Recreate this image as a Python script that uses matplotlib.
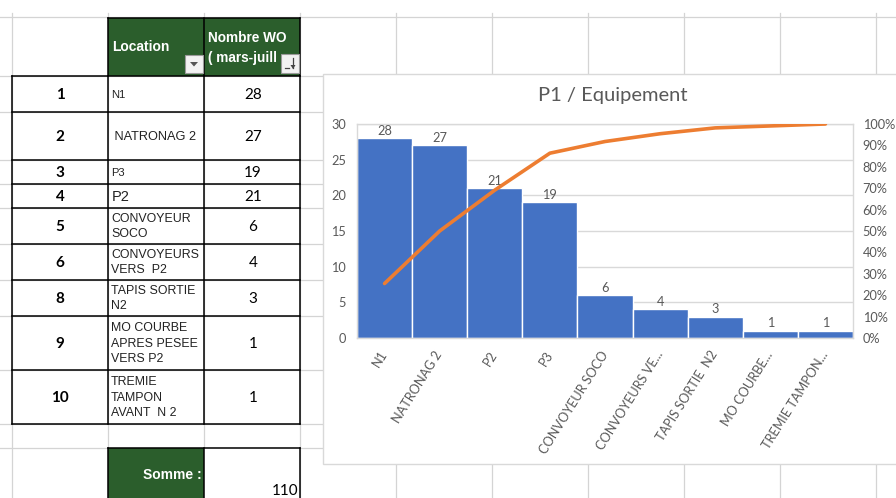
import numpy as np
import matplotlib
matplotlib.use("Agg")
import matplotlib.pyplot as plt
from matplotlib.patches import Rectangle, Polygon
from matplotlib.ticker import MultipleLocator, PercentFormatter

# ---- worksheet table ----
row_ids = ["1", "2", "3", "4", "5", "6", "8", "9", "10"]
locations = ["N1", " NATRONAG 2", "P3", "P2", "CONVOYEUR\nSOCO",
             "CONVOYEURS\nVERS  P2", "TAPIS SORTIE\nN2",
             "MO COURBE\nAPRES PESEE\nVERS P2", "TREMIE\nTAMPON\nAVANT  N 2"]
wo_counts = [28, 27, 19, 21, 6, 4, 3, 1, 1]

# ---- Pareto chart (sorted by count) ----
chart_title = "P1 / Equipement"
chart_categories = ["N1", "NATRONAG 2", "P2", "P3", "CONVOYEUR SOCO",
                    "CONVOYEURS VE...", "TAPIS SORTIE  N2", "MO COURBE...",
                    "TREMIE TAMPON..."]
chart_values = [28, 27, 21, 19, 6, 4, 3, 1, 1]

W, H = 896, 498
GRID = "#d4d4d4"
GREEN = "#2b5e2c"
TXT = "#595959"
CAL = ["Lato", "DejaVu Sans"]
ARIAL = ["Liberation Sans", "DejaVu Sans"]
LAB = 9.2

fig = plt.figure(figsize=(W / 100, H / 100), dpi=100)
sheet = fig.add_axes([0, 0, 1, 1])
sheet.set_xlim(0, W)
sheet.set_ylim(H, 0)
sheet.axis("off")

# cell grid of the sheet
grid_v = [12, 108, 204, 300, 396, 492, 588, 684, 780, 876]
grid_h = [17, 76, 112, 160, 184, 208, 244, 280, 316, 370, 424, 448]
for x in grid_v:
    sheet.plot([x, x], [13, H], color=GRID, lw=0.9, zorder=1)
for y in grid_h:
    sheet.plot([0, W], [y, y], color=GRID, lw=0.9, zorder=1)

col_x = [12, 108, 204, 300]
row_y = [76, 112, 160, 184, 208, 244, 280, 316, 370, 424]
head_top = 18
somme_top = 448

# header cells
sheet.add_patch(Rectangle((108, head_top), 192, row_y[0] - head_top,
                          fc=GREEN, ec="none", zorder=2))
sheet.add_patch(Rectangle((108, somme_top), 96, H - somme_top + 5,
                          fc=GREEN, ec="none", zorder=2))
sheet.add_patch(Rectangle((204, somme_top), 96, H - somme_top + 5,
                          fc="white", ec="none", zorder=2))

blk = dict(color="black", lw=1.1, zorder=3, solid_capstyle="projecting")
sheet.plot([108, 300], [head_top, head_top], **blk)
for x in [108, 204, 300]:
    sheet.plot([x, x], [head_top, row_y[0]], **blk)
for y in row_y:
    sheet.plot([12, 300], [y, y], **blk)
for x in col_x:
    sheet.plot([x, x], [row_y[0], row_y[-1]], **blk)
sheet.plot([108, 300], [somme_top, somme_top], **blk)
for x in [108, 204, 300]:
    sheet.plot([x, x], [somme_top, H], **blk)

# header texts
sheet.text(112, 47, "Location", color="white", fontsize=10, fontweight="bold",
           family=ARIAL, ha="left", va="center", zorder=4)
sheet.text(208, 38, "Nombre WO", color="white", fontsize=9.8, fontweight="bold",
           family=ARIAL, ha="left", va="center", zorder=4)
sheet.text(208, 58, "( mars-juill", color="white", fontsize=9.8,
           fontweight="bold", family=ARIAL, ha="left", va="center", zorder=4)

# filter / sort buttons
sheet.add_patch(Rectangle((185, 55), 18, 18, fc="#f2f2f2", ec="#9a9a9a",
                          lw=0.8, zorder=5))
sheet.add_patch(Polygon([[190, 62], [198, 62], [194, 66.5]], closed=True,
                        fc="#555555", ec="none", zorder=6))
sheet.add_patch(Rectangle((281, 54), 18, 19, fc="#f2f2f2", ec="#9a9a9a",
                          lw=0.8, zorder=5))
sheet.plot([293, 293], [58, 68], color="#444444", lw=0.9, zorder=6)
sheet.add_patch(Polygon([[290.5, 65], [295.5, 65], [293, 69]], closed=True,
                        fc="#444444", ec="none", zorder=6))
sheet.plot([285, 289], [68, 68], color="#444444", lw=0.9, zorder=6)

# table body
for i, (rid, loc, n) in enumerate(zip(row_ids, locations, wo_counts)):
    yc = (row_y[i] + row_y[i + 1]) / 2 + 0.5
    sheet.text(60, yc, rid, fontsize=11, fontweight="bold", family=CAL,
               ha="center", va="center", color="black", zorder=4)
    size = 8.9
    x0 = 111
    if loc == "N1" or loc == "P3":
        size = 8.0
    if loc == "P2":
        size = 10.5
        x0 = 112
    if loc.startswith(" "):
        size = 9.2
    sheet.text(x0, yc, loc, fontsize=size, family=ARIAL, ha="left",
               va="center", color="#222222", linespacing=1.42, zorder=4)
    sheet.text(253, yc, str(n), fontsize=11, family=CAL, ha="center",
               va="center", color="black", zorder=4)

sheet.text(202, 475, "Somme :", color="white", fontsize=10, fontweight="bold",
           family=ARIAL, ha="right", va="center", zorder=4)
sheet.text(298, 491, str(sum(wo_counts)), color="black", fontsize=11,
           family=CAL, ha="right", va="center", zorder=4)

# chart area
sheet.add_patch(Rectangle((323, 74), 620, 390, fc="white", ec="#d9d9d9",
                          lw=1.0, zorder=7))
fig.text(613 / W, 1 - 96 / H, chart_title, color=TXT, fontsize=14.5,
         family=CAL, ha="center", va="center")

left, right, top, bottom = 357, 853, 124, 338
ax = fig.add_axes([left / W, 1 - bottom / H, (right - left) / W, (bottom - top) / H])
x = np.arange(len(chart_values))
ax.bar(x, chart_values, width=1.0, color="#4472C4", edgecolor="white",
       linewidth=1.0, zorder=2)
ax.set_xlim(-0.5, len(chart_values) - 0.5)
ax.set_ylim(0, 30)
ax.yaxis.set_major_locator(MultipleLocator(5))
ax.grid(axis="y", color="#d9d9d9", lw=1.0, zorder=0)
ax.set_axisbelow(True)
for s in ax.spines.values():
    s.set_color("#d9d9d9")
    s.set_linewidth(1.0)
ax.tick_params(axis="both", length=0, colors=TXT, labelsize=LAB)
ax.tick_params(axis="y", pad=8)
ax.set_xticks(x)
ax.set_xticklabels(chart_categories, rotation=58, ha="right", va="center",
                   rotation_mode="anchor", family=CAL)
ax.tick_params(axis="x", pad=10)
for lab in ax.get_yticklabels():
    lab.set_family(CAL)
for xi, v in zip(x, chart_values):
    ax.annotate(str(v), (xi, v), xytext=(0, 1), textcoords="offset points",
                ha="center", va="bottom", fontsize=LAB, color=TXT, family=CAL)

ax2 = ax.twinx()
cum_share = np.cumsum(chart_values) / np.sum(chart_values)
ax2.plot(x, cum_share, color="#ED7D31", lw=2.6, solid_capstyle="round",
         solid_joinstyle="round", zorder=5)
ax2.set_ylim(0, 1)
ax2.yaxis.set_major_locator(MultipleLocator(0.1))
ax2.yaxis.set_major_formatter(PercentFormatter(1.0, decimals=0))
ax2.tick_params(axis="y", length=0, colors=TXT, labelsize=LAB, pad=7)
for lab in ax2.get_yticklabels():
    lab.set_family(CAL)
for s in ax2.spines.values():
    s.set_visible(False)

fig.savefig("out.png", dpi=100)
